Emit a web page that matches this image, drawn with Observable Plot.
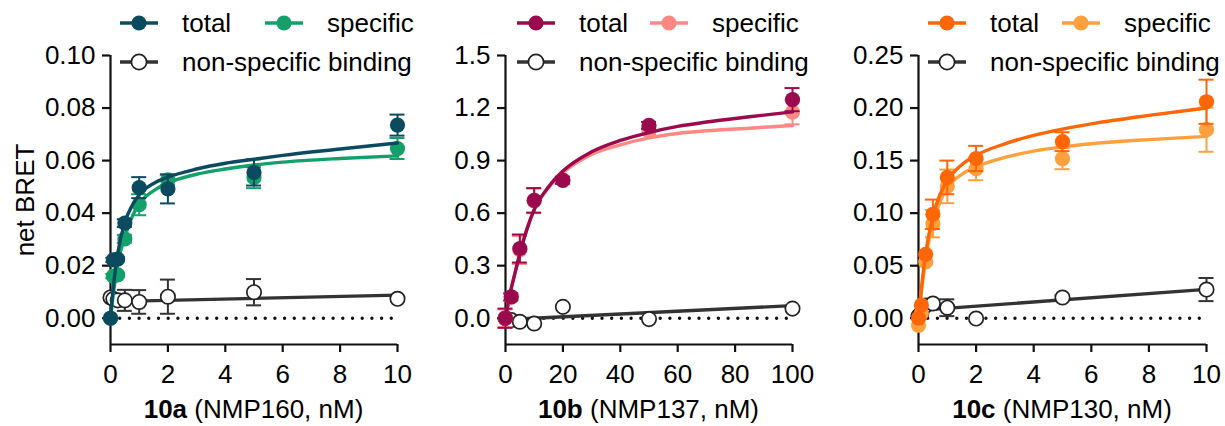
<!DOCTYPE html>
<html><head><meta charset="utf-8">
<script src="https://cdn.jsdelivr.net/npm/d3@7"></script>
<script src="https://cdn.jsdelivr.net/npm/@observablehq/plot@0.6"></script>
<style>
body{margin:0;background:#fff;}
#wrap{position:relative;width:1225px;height:426px;overflow:hidden;font-family:"Liberation Sans",Arial,sans-serif;}
#wrap svg{position:absolute;top:0;overflow:visible;}
</style></head><body><div id="wrap"></div>
<script>
// ---------- Panel 10a (NMP160) ----------
const conc10a = [0, 0.1, 0.25, 0.5, 1, 2, 5, 10];
const total10a = [0.000, 0.0222, 0.0225, 0.0362, 0.0497, 0.0492, 0.0555, 0.0735];
const totalErr10a = [0, 0.0008, 0.0008, 0.0015, 0.004, 0.0055, 0.005, 0.004];
const specific10a = [0.000, 0.0160, 0.0165, 0.0302, 0.0432, 0.0527, 0.0535, 0.0646];
const specificErr10a = [0, 0.0008, 0.0008, 0.0015, 0.004, 0.002, 0.004, 0.004];
const nsb10a = [0.0079, 0.0073, 0.0068, 0.0068, 0.0062, 0.0082, 0.0099, 0.0074];
const nsbErr10a = [0, 0, 0, 0.004, 0.0045, 0.0065, 0.005, 0];
const fitX10a = [0, 0.1, 0.25, 0.5, 0.75, 1, 1.5, 2, 3, 4, 5, 6, 8, 10];
const totalFit10a = [0, 0.012, 0.0245, 0.0365, 0.0428, 0.0470, 0.0513, 0.0537, 0.0568, 0.0590, 0.0605, 0.0620, 0.0644, 0.0667];
const specificFit10a = [0, 0.0095, 0.0205, 0.031, 0.0385, 0.0435, 0.0485, 0.0515, 0.0548, 0.0568, 0.0583, 0.0594, 0.0608, 0.0618];
const nsbFitX10a = [0, 10];
const nsbFit10a = [0.0063, 0.0088];

// ---------- Panel 10b (NMP137) ----------
const conc10b = [0, 2, 5, 10, 20, 50, 100];
const total10b = [0.0, 0.122, 0.398, 0.673, 0.787, 1.101, 1.248];
const totalErr10b = [0.055, 0.02, 0.08, 0.07, 0.02, 0.02, 0.066];
const specific10b = [0.0, 0.12, 0.39, 0.67, 0.79, 1.069, 1.177];
const specificErr10b = [0.05, 0.02, 0.08, 0.07, 0.02, 0.02, 0.07];
const nsb10b = [0.0, -0.01, -0.02, -0.03, 0.065, -0.005, 0.055];
const nsbErr10b = [0, 0, 0, 0, 0, 0, 0];
const fitX10b = [0, 1, 2, 3.5, 5, 7.5, 10, 15, 20, 30, 40, 50, 60, 70, 85, 100];
const totalFit10b = [0, 0.09, 0.17, 0.27, 0.37, 0.51, 0.62, 0.75, 0.84, 0.95, 1.015, 1.06, 1.095, 1.12, 1.15, 1.178];
const specificFit10b = [0, 0.09, 0.17, 0.27, 0.37, 0.51, 0.62, 0.745, 0.83, 0.935, 0.99, 1.03, 1.055, 1.07, 1.085, 1.10];
const nsbFitX10b = [0, 100];
const nsbFit10b = [-0.008, 0.072];

// ---------- Panel 10c (NMP130) ----------
const conc10c = [0, 0.1, 0.25, 0.5, 1, 2, 5, 10];
const total10c = [0.0, 0.0124, 0.0608, 0.0989, 0.134, 0.152, 0.168, 0.206];
const totalErr10c = [0, 0, 0, 0.014, 0.016, 0.012, 0.009, 0.021];
const specific10c = [-0.0067, 0.0045, 0.0536, 0.090, 0.1255, 0.1423, 0.1518, 0.1794];
const specificErr10c = [0, 0, 0, 0.013, 0.016, 0.011, 0.01, 0.021];
const nsb10c = [0.002, 0.005, 0.012, 0.014, 0.0100, -0.0003, 0.0197, 0.0273];
const nsbErr10c = [0, 0, 0, 0.002, 0.008, 0, 0.002, 0.011];
const fitX10c = [0, 0.1, 0.25, 0.5, 0.75, 1, 1.5, 2, 3, 4, 5, 6, 8, 10];
const totalFit10c = [0, 0.028, 0.062, 0.097, 0.118, 0.131, 0.146, 0.155, 0.166, 0.174, 0.180, 0.185, 0.193, 0.200];
const specificFit10c = [0, 0.025, 0.056, 0.091, 0.111, 0.124, 0.137, 0.144, 0.153, 0.159, 0.163, 0.166, 0.170, 0.173];
const nsbFitX10c = [0, 10];
const nsbFit10c = [0.0075, 0.0275];

// ---------- Labels & ticks ----------
const legendLabels = ["total", "specific", "non-specific binding"];
const yLabel = "net BRET";
const xTitles = [["10a", " (NMP160, nM)"], ["10b", " (NMP137, nM)"], ["10c", " (NMP130, nM)"]];
const xTicks10a = [0, 2, 4, 6, 8, 10];
const xTicks10b = [0, 20, 40, 60, 80, 100];
const xTicks10c = [0, 2, 4, 6, 8, 10];
const yTicks10a = [0, 0.02, 0.04, 0.06, 0.08, 0.10];
const yTicks10b = [0, 0.3, 0.6, 0.9, 1.2, 1.5];
const yTicks10c = [0, 0.05, 0.10, 0.15, 0.20, 0.25];

const FONT = '"Liberation Sans", Arial, sans-serif';
const FS = 26;

function rows(xs, ys, es) { return xs.map((x, i) => ({x, y: ys[i], e: es ? es[i] : 0})); }

function errMarks(data, color) {
  const d = data.filter(p => p.e > 0);
  return [
    Plot.ruleX(d, {x: "x", y1: p => p.y - p.e, y2: p => p.y + p.e, stroke: color, strokeWidth: 2}),
    Plot.ruleY(d, {x1: "x", x2: "x", y: p => p.y + p.e, stroke: color, strokeWidth: 2, insetLeft: -7.5, insetRight: -7.5}),
    Plot.ruleY(d, {x1: "x", x2: "x", y: p => p.y - p.e, stroke: color, strokeWidth: 2, insetLeft: -7.5, insetRight: -7.5})
  ];
}

function panel(c) {
  const tot = rows(c.conc, c.total, c.totalErr);
  const spe = rows(c.conc, c.specific, c.specificErr);
  const nsb = rows(c.conc, c.nsb, c.nsbErr);
  const fitT = rows(c.fitX, c.totalFit);
  const fitS = rows(c.fitX, c.specificFit);
  const fitN = rows(c.nsbFitX, c.nsbFit);
  const svg = Plot.plot({
    width: c.width, height: 426,
    marginLeft: c.ml, marginRight: c.mr, marginTop: 55, marginBottom: 82,
    style: {fontFamily: FONT, fontSize: FS + "px", background: "transparent", overflow: "visible", color: "#000"},
    x: {domain: c.xDomain},
    y: {domain: c.yDomain},
    marks: [
      Plot.ruleY([0], {stroke: "#111", strokeWidth: 3.4, strokeDasharray: "0 9.7", strokeLinecap: "round"}),
      Plot.ruleX([c.xDomain[0]], {stroke: "#111", strokeWidth: 2.2}),
      Plot.ruleY([c.yDomain[0]], {stroke: "#111", strokeWidth: 2.2}),
      Plot.axisY({ticks: c.yTicks, tickFormat: d3.format(c.yFmt), tickSize: 8, tickPadding: 7, strokeWidth: 2.2, stroke: "#111", fontSize: FS, fill: "#000",
        label: c.ylabel, labelAnchor: "center", labelOffset: 95, labelArrow: "none"}),
      Plot.axisX({ticks: c.xTicks, tickSize: 8, tickPadding: 12, strokeWidth: 2.2, stroke: "#111", fontSize: FS, fill: "#000", label: null}),
      Plot.line(fitN, {x: "x", y: "y", stroke: "#333", strokeWidth: 3.3}),
      ...errMarks(nsb, "#333"),
      Plot.dot(nsb, {x: "x", y: "y", r: 7.2, fill: "white", stroke: "#222", strokeWidth: 1.7}),
      Plot.line(fitS, {x: "x", y: "y", stroke: c.cS, strokeWidth: 3.4, curve: "monotone-x"}),
      ...errMarks(spe, c.cS),
      Plot.dot(spe, {x: "x", y: "y", r: 7.6, fill: c.cS}),
      Plot.line(fitT, {x: "x", y: "y", stroke: c.cT, strokeWidth: 3.4, curve: "monotone-x"}),
      ...errMarks(tot, c.cT),
      Plot.dot(tot, {x: "x", y: "y", r: 7.6, fill: c.cT})
    ]
  });
  svg.style.left = c.left + "px";
  return svg;
}

const panels = [
  {left: 0, width: 410, ml: 110, mr: 13, conc: conc10a, total: total10a, totalErr: totalErr10a, specific: specific10a, specificErr: specificErr10a,
   nsb: nsb10a, nsbErr: nsbErr10a, fitX: fitX10a, totalFit: totalFit10a, specificFit: specificFit10a, nsbFitX: nsbFitX10a, nsbFit: nsbFit10a,
   xDomain: [0, 10], yDomain: [-0.01, 0.10], xTicks: xTicks10a, yTicks: yTicks10a, yFmt: ".2f", ylabel: yLabel,
   cT: "#0c4b5f", cS: "#13a06a", lx: 120, l2: 145, title: xTitles[0]},
  {left: 410, width: 405, ml: 95, mr: 23, conc: conc10b, total: total10b, totalErr: totalErr10b, specific: specific10b, specificErr: specificErr10b,
   nsb: nsb10b, nsbErr: nsbErr10b, fitX: fitX10b, totalFit: totalFit10b, specificFit: specificFit10b, nsbFitX: nsbFitX10b, nsbFit: nsbFit10b,
   xDomain: [0, 100], yDomain: [-0.15, 1.5], xTicks: xTicks10b, yTicks: yTicks10b, yFmt: ".1f", ylabel: null,
   cT: "#9a0a4c", cS: "#fd8884", lx: 517, l2: 133, title: xTitles[1]},
  {left: 815, width: 410, ml: 103, mr: 19, conc: conc10c, total: total10c, totalErr: totalErr10c, specific: specific10c, specificErr: specificErr10c,
   nsb: nsb10c, nsbErr: nsbErr10c, fitX: fitX10c, totalFit: totalFit10c, specificFit: specificFit10c, nsbFitX: nsbFitX10c, nsbFit: nsbFit10c,
   xDomain: [0, 10], yDomain: [-0.025, 0.25], xTicks: xTicks10c, yTicks: yTicks10c, yFmt: ".2f", ylabel: null,
   cT: "#ff6608", cS: "#ffa03f", lx: 928, l2: 134, title: xTitles[2]}
];

const wrap = document.getElementById("wrap");
panels.forEach(c => wrap.appendChild(panel(c)));

// ---------- Overlay: legends and x-axis titles ----------
const NS = "http://www.w3.org/2000/svg";
const ov = document.createElementNS(NS, "svg");
ov.setAttribute("width", 1225); ov.setAttribute("height", 426);
ov.style.left = "0px";
ov.style.fontFamily = FONT;
wrap.appendChild(ov);
function el(tag, attrs, parent) {
  const e = document.createElementNS(NS, tag);
  for (const k in attrs) e.setAttribute(k, attrs[k]);
  (parent || ov).appendChild(e);
  return e;
}
function legendItem(x, y, color, open, label) {
  el("line", {x1: x, x2: x + 38, y1: y, y2: y, stroke: color, "stroke-width": 3.6});
  el("circle", {cx: x + 19, cy: y, r: 7.6, fill: open ? "white" : color, stroke: open ? "#222" : "none", "stroke-width": 1.7});
  const t = el("text", {x: x + 62, y: y + 9, "font-size": FS, fill: "#000"});
  t.textContent = label;
}
panels.forEach(c => {
  legendItem(c.lx, 23, c.cT, false, legendLabels[0]);
  legendItem(c.lx + c.l2, 23, c.cS, false, legendLabels[1]);
  legendItem(c.lx, 62, "#333", true, legendLabels[2]);
  const x0 = c.left + c.ml, x1 = c.left + c.width - c.mr;
  const t = el("text", {x: (x0 + x1) / 2, y: 418, "font-size": FS, "text-anchor": "middle", fill: "#000"});
  const b = el("tspan", {"font-weight": "bold"}, t); b.textContent = c.title[0];
  const r = el("tspan", {}, t); r.textContent = c.title[1];
});
</script>
</body></html>
